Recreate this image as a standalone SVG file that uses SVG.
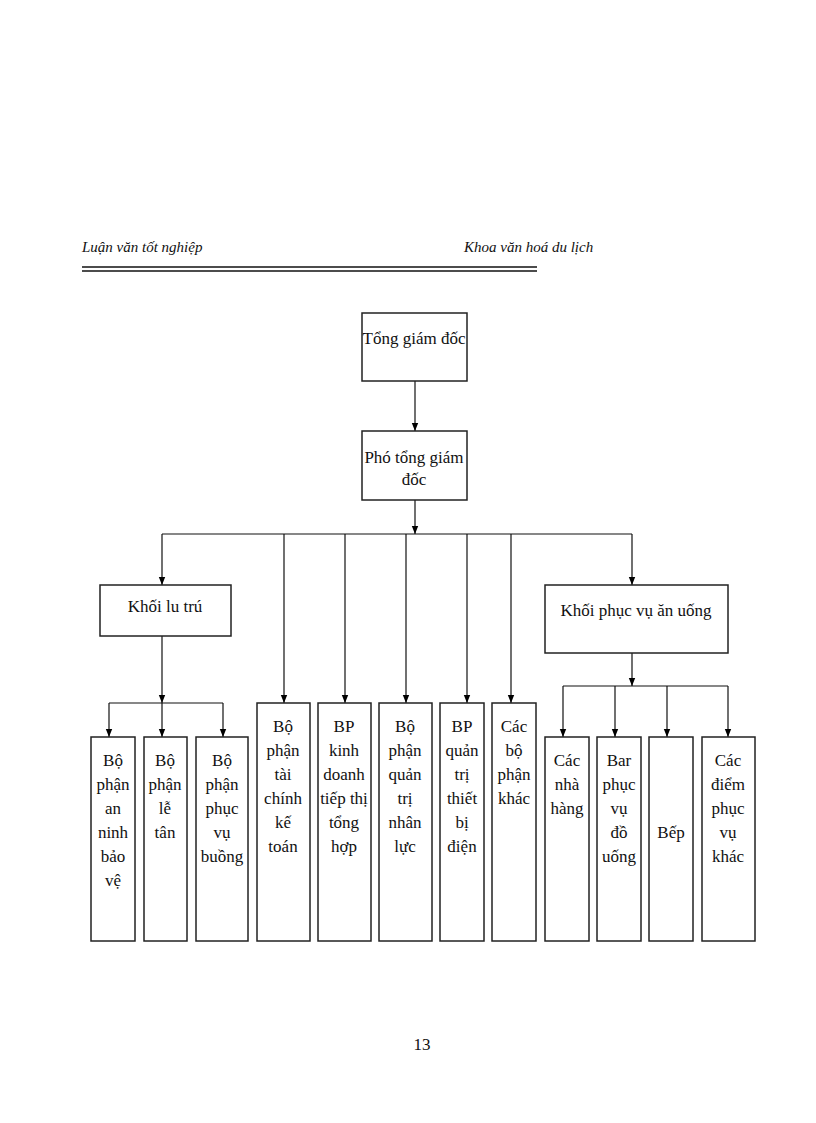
<svg xmlns="http://www.w3.org/2000/svg" width="816" height="1123" viewBox="0 0 816 1123">
<defs>
<marker id="ar" markerWidth="8" markerHeight="10" refX="4" refY="10" orient="auto" markerUnits="userSpaceOnUse" viewBox="0 0 8 10"><path d="M0,0 L8,0 L4,10 Z" fill="#000" transform="rotate(-90 4 5) translate(0 0)"/></marker>
<marker id="a" markerWidth="8" markerHeight="10" refX="10" refY="4" orient="auto" markerUnits="userSpaceOnUse" viewBox="0 0 10 8"><path d="M0,0 L10,4 L0,8 Z" fill="#000"/></marker>
</defs>
<style>
rect{fill:#fff;stroke:#222;stroke-width:1.5}
text{font-family:"Liberation Serif",serif;font-size:17px;fill:#111;text-anchor:middle}
.h{font-style:italic;font-size:15px;text-anchor:start}
#c line,#c polyline{stroke:#111;stroke-width:1.2;fill:none}
</style>
<rect x="0" y="0" width="816" height="1123" style="fill:#fff;stroke:none"/>
<text class="h" x="82" y="252">Luận văn tốt nghiệp</text>
<text class="h" x="464" y="252">Khoa văn hoá du lịch</text>
<line x1="82" y1="267" x2="537" y2="267" stroke="#111" stroke-width="1.5"/>
<line x1="82" y1="271" x2="537" y2="271" stroke="#111" stroke-width="1.5"/>
<g id="c">
<line x1="415" y1="381" x2="415" y2="431" marker-end="url(#a)"/>
<line x1="415" y1="500" x2="415" y2="534" marker-end="url(#a)"/>
<line x1="162" y1="534" x2="632" y2="534"/>
<line x1="162" y1="534" x2="162" y2="585" marker-end="url(#a)"/>
<line x1="632" y1="534" x2="632" y2="585" marker-end="url(#a)"/>
<line x1="284" y1="534" x2="284" y2="703" marker-end="url(#a)"/>
<line x1="345" y1="534" x2="345" y2="703" marker-end="url(#a)"/>
<line x1="406" y1="534" x2="406" y2="703" marker-end="url(#a)"/>
<line x1="467" y1="534" x2="467" y2="703" marker-end="url(#a)"/>
<line x1="511" y1="534" x2="511" y2="703" marker-end="url(#a)"/>
<line x1="162" y1="636" x2="162" y2="703" marker-end="url(#a)"/>
<line x1="109" y1="703" x2="223" y2="703"/>
<line x1="109" y1="703" x2="109" y2="737" marker-end="url(#a)"/>
<line x1="162" y1="703" x2="162" y2="737" marker-end="url(#a)"/>
<line x1="223" y1="703" x2="223" y2="737" marker-end="url(#a)"/>
<line x1="632" y1="653" x2="632" y2="686" marker-end="url(#a)"/>
<line x1="563" y1="686" x2="728" y2="686"/>
<line x1="563" y1="686" x2="563" y2="737" marker-end="url(#a)"/>
<line x1="615" y1="686" x2="615" y2="737" marker-end="url(#a)"/>
<line x1="667" y1="686" x2="667" y2="737" marker-end="url(#a)"/>
<line x1="728" y1="686" x2="728" y2="737" marker-end="url(#a)"/>
</g>
<g id="n1"><rect x="362" y="313" width="105" height="68"/><text x="414" y="344">Tổng giám đốc</text></g>
<g id="n2"><rect x="362" y="431" width="105" height="69"/><text x="414" y="463">Phó tổng giám</text><text x="414" y="485">đốc</text></g>
<g id="n3"><rect x="100" y="585" width="131" height="51"/><text x="165" y="612">Khối lu   trú</text></g>
<g id="n4"><rect x="545" y="585" width="183" height="68"/><text x="636" y="616">Khối phục vụ ăn uống</text></g>
<g id="b1"><rect x="91" y="737" width="44" height="204"/><text x="113" y="766">Bộ</text><text x="113" y="790">phận</text><text x="113" y="814">an</text><text x="113" y="838">ninh</text><text x="113" y="862">bảo</text><text x="113" y="886">vệ</text></g>
<g id="b2"><rect x="144" y="737" width="43" height="204"/><text x="165" y="766">Bộ</text><text x="165" y="790">phận</text><text x="165" y="814">lễ</text><text x="165" y="838">tân</text></g>
<g id="b3"><rect x="196" y="737" width="52" height="204"/><text x="222" y="766">Bộ</text><text x="222" y="790">phận</text><text x="222" y="814">phục</text><text x="222" y="838">vụ</text><text x="222" y="862">buồng</text></g>
<g id="b4"><rect x="257" y="703" width="53" height="238"/><text x="283" y="732">Bộ</text><text x="283" y="756">phận</text><text x="283" y="780">tài</text><text x="283" y="804">chính</text><text x="283" y="828">kế</text><text x="283" y="852">toán</text></g>
<g id="b5"><rect x="318" y="703" width="53" height="238"/><text x="344" y="732">BP</text><text x="344" y="756">kinh</text><text x="344" y="780">doanh</text><text x="344" y="804">tiếp thị</text><text x="344" y="828">tổng</text><text x="344" y="852">hợp</text></g>
<g id="b6"><rect x="379" y="703" width="53" height="238"/><text x="405" y="732">Bộ</text><text x="405" y="756">phận</text><text x="405" y="780">quản</text><text x="405" y="804">trị</text><text x="405" y="828">nhân</text><text x="405" y="852">lực</text></g>
<g id="b7"><rect x="440" y="703" width="44" height="238"/><text x="462" y="732">BP</text><text x="462" y="756">quản</text><text x="462" y="780">trị</text><text x="462" y="804">thiết</text><text x="462" y="828">bị</text><text x="462" y="852">điện</text></g>
<g id="b8"><rect x="492" y="703" width="44" height="238"/><text x="514" y="732">Các</text><text x="514" y="756">bộ</text><text x="514" y="780">phận</text><text x="514" y="804">khác</text></g>
<g id="b9"><rect x="545" y="737" width="44" height="204"/><text x="567" y="766">Các</text><text x="567" y="790">nhà</text><text x="567" y="814">hàng</text></g>
<g id="b10"><rect x="597" y="737" width="44" height="204"/><text x="619" y="766">Bar</text><text x="619" y="790">phục</text><text x="619" y="814">vụ</text><text x="619" y="838">đồ</text><text x="619" y="862">uống</text></g>
<g id="b11"><rect x="649" y="737" width="44" height="204"/><text x="671" y="838">Bếp</text></g>
<g id="b12"><rect x="702" y="737" width="53" height="204"/><text x="728" y="766">Các</text><text x="728" y="790">điểm</text><text x="728" y="814">phục</text><text x="728" y="838">vụ</text><text x="728" y="862">khác</text></g>
<text x="422" y="1050">13</text>
</svg>
